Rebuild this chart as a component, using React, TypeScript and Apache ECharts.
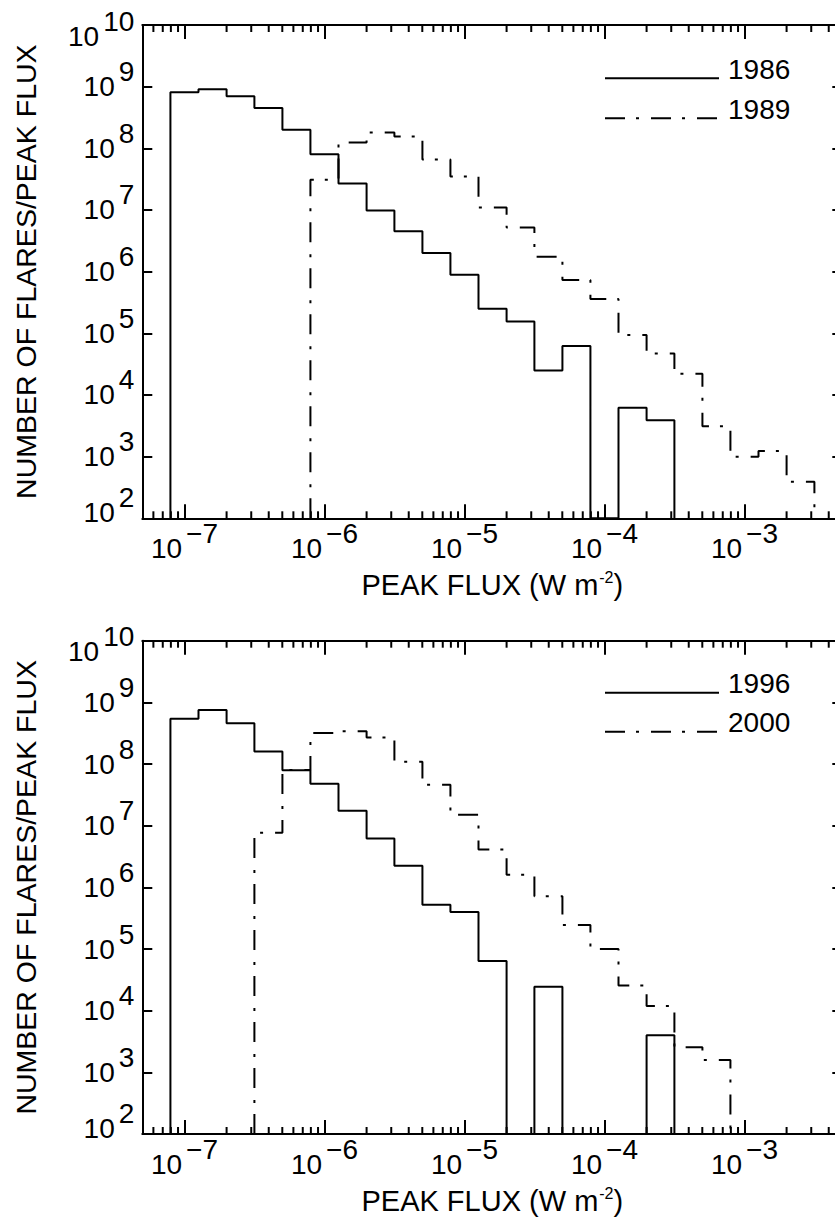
import React, { useEffect, useRef } from "react";
import * as echarts from "echarts";

// ---------- data ----------
// Bin edges (W m^-2), 0.2-decade bins
const BIN_EDGES = [
  7.94e-8, 1.26e-7, 2.0e-7, 3.16e-7, 5.01e-7, 7.94e-7, 1.26e-6, 2.0e-6,
  3.16e-6, 5.01e-6, 7.94e-6, 1.26e-5, 2.0e-5, 3.16e-5, 5.01e-5, 7.94e-5,
  1.26e-4, 2.0e-4, 3.16e-4, 5.01e-4, 7.94e-4, 1.26e-3, 2.0e-3, 3.16e-3,
];

// number of flares / peak flux per bin (0 = empty bin)
const COUNTS_1986 = [
  8.1e8, 9.1e8, 7.0e8, 4.5e8, 2.0e8, 8.0e7, 2.7e7, 9.8e6, 4.5e6, 2.0e6, 8.9e5,
  2.5e5, 1.56e5, 2.5e4, 6.2e4, 0, 6.2e3, 3.9e3, 0, 0, 0, 0, 0,
];
const COUNTS_1989 = [
  0, 0, 0, 0, 0, 3.1e7, 1.24e8, 1.8e8, 1.55e8, 6.6e7, 3.5e7, 1.1e7, 5.2e6,
  1.75e6, 7.3e5, 3.6e5, 9.4e4, 4.7e4, 2.2e4, 3.1e3, 1.0e3, 1.24e3, 3.9e2,
];
const COUNTS_1996 = [
  5.4e8, 7.5e8, 4.6e8, 1.6e8, 7.9e7, 4.8e7, 1.75e7, 6.2e6, 2.25e6, 5.2e5,
  4.0e5, 6.4e4, 0, 2.45e4, 0, 0, 0, 4.0e3, 0, 0, 0, 0, 0,
];
const COUNTS_2000 = [
  0, 0, 0, 7.7e6, 8.0e7, 3.2e8, 3.4e8, 2.7e8, 1.09e8, 4.6e7, 1.5e7, 4.1e6,
  1.6e6, 7.2e5, 2.45e5, 1.0e5, 2.55e4, 1.19e4, 2.55e3, 1.58e3, 0, 0, 0,
];

const TOP_NAMES = ["1986", "1989"];
const BOTTOM_NAMES = ["1996", "2000"];

const X_MIN = 5e-8;
const X_MAX = 5e-3;
const Y_MIN = 1e2;
const Y_MAX = 1e10;

const X_TITLE = "PEAK FLUX (W m{s|-2})";
const Y_TITLE = "NUMBER OF FLARES/PEAK FLUX";

// ---------- helpers ----------
const FONT = "Liberation Sans";
const BLACK = "#000";
const DASH_DOT = [20, 11, 3, 12];

function minorTickValues(): number[] {
  const out: number[] = [];
  for (let d = -8; d <= -3; d++) {
    for (let m = 2; m <= 9; m++) {
      const v = m * Math.pow(10, d);
      if (v > X_MIN * 1.0001 && v < X_MAX * 0.9999) out.push(v);
    }
  }
  return out;
}

function stepData(counts: number[]): number[][] {
  const first = counts.findIndex((c) => c > 0);
  let last = counts.length - 1;
  while (last >= 0 && !(counts[last] > 0)) last--;
  const pts: number[][] = [];
  pts.push([BIN_EDGES[first], Y_MIN]);
  for (let i = first; i <= last; i++) {
    pts.push([BIN_EDGES[i], counts[i] > 0 ? counts[i] : Y_MIN]);
  }
  pts.push([BIN_EDGES[last + 1], counts[last]]);
  pts.push([BIN_EDGES[last + 1], Y_MIN]);
  return pts;
}

function expOf(v: number): number | null {
  const e = Math.round(Math.log10(v));
  if (Math.abs(v / Math.pow(10, e) - 1) > 1e-6) return null;
  return e;
}

function xLabel(v: number): string {
  const e = expOf(v);
  if (e === null) return "";
  return `{b|10}{e|${e < 0 ? "\u2212" + -e : e}}`;
}

function yLabel(v: number): string {
  const e = expOf(v);
  if (e === null) return "";
  if (e === 10) return `{bt|10}{et|${e}}`;
  if (e === 2) return `{bb|10}{eb|${e}}`;
  return `{b|10}{e|${e}}`;
}

const tok = (padding: number[]) => ({ fontSize: 28, fontFamily: FONT, color: BLACK, padding });
const labelRich = {
  b: tok([0, 0, 0, 0]),
  e: tok([0, 0, 30, 4]),
  bt: tok([22, 0, 0, 0]),
  et: tok([0, 0, 8, 4]),
  bb: tok([0, 0, 12, 0]),
  eb: tok([0, 0, 42, 4]),
};

const GRID_LEFT = 142.3;
const GRID_W = 700;
const GRID_H = 493.3;
const GRID_TOPS = [25, 640.7];
// top of each legend entry (one entry per legend component)
const LEGEND_TOPS = [
  [55.3, 95.3],
  [669.7, 708.7],
];

export default function App() {
  const ref = useRef<HTMLDivElement>(null);

  useEffect(() => {
    if (!ref.current) return;
    const chart = echarts.init(ref.current, undefined, { renderer: "svg" });

    const axisLine = { show: true, lineStyle: { color: BLACK, width: 2 } };
    const minors = minorTickValues();

    const grids: any[] = [];
    const xAxes: any[] = [];
    const yAxes: any[] = [];
    const series: any[] = [];
    const legends: any[] = [];

    const panels = [
      { names: TOP_NAMES, solid: COUNTS_1986, dashed: COUNTS_1989 },
      { names: BOTTOM_NAMES, solid: COUNTS_1996, dashed: COUNTS_2000 },
    ];

    panels.forEach((p, i) => {
      const top = GRID_TOPS[i];
      grids.push({ left: GRID_LEFT, top, width: GRID_W, height: GRID_H, show: false });

      // bottom x axis
      xAxes.push({
        type: "log",
        logBase: 10,
        gridIndex: i,
        position: "bottom",
        min: X_MIN,
        max: X_MAX,
        splitLine: { show: false },
        axisLine,
        axisTick: { show: true, inside: true, length: 14, lineStyle: { color: BLACK, width: 2 } },
        axisLabel: { formatter: xLabel, rich: labelRich, margin: 1 },
        name: X_TITLE,
        nameLocation: "middle",
        nameGap: 51,
        nameTextStyle: {
          fontSize: 29,
          fontFamily: FONT,
          color: BLACK,
          rich: { s: { fontSize: 16, fontFamily: FONT, color: BLACK, padding: [0, 0, 15, 1] } },
        },
      });
      // top x axis (mirror)
      xAxes.push({
        type: "log",
        logBase: 10,
        gridIndex: i,
        position: "top",
        min: X_MIN,
        max: X_MAX,
        splitLine: { show: false },
        axisLine,
        axisTick: { show: true, inside: true, length: 14, lineStyle: { color: BLACK, width: 2 } },
        axisLabel: { show: false },
      });
      // left y axis
      yAxes.push({
        type: "log",
        logBase: 10,
        gridIndex: i,
        position: "left",
        min: Y_MIN,
        max: Y_MAX,
        splitNumber: 8,
        splitLine: { show: false },
        axisLine,
        axisTick: { show: true, inside: true, length: 10, lineStyle: { color: BLACK, width: 2 } },
        axisLabel: { formatter: yLabel, rich: labelRich, margin: 8 },
        name: Y_TITLE,
        nameLocation: "middle",
        nameRotate: 90,
        nameGap: 102,
        nameTextStyle: { fontSize: 28.5, fontFamily: FONT, color: BLACK },
      });
      // right y axis (mirror)
      yAxes.push({
        type: "log",
        logBase: 10,
        gridIndex: i,
        position: "right",
        min: Y_MIN,
        max: Y_MAX,
        splitNumber: 8,
        splitLine: { show: false },
        axisLine,
        axisTick: { show: true, inside: true, length: 10, lineStyle: { color: BLACK, width: 2 } },
        axisLabel: { show: false },
      });

      const xi = i * 2;
      const yi = i * 2;
      series.push({
        type: "line",
        name: p.names[0],
        xAxisIndex: xi,
        yAxisIndex: yi,
        data: stepData(p.solid),
        step: "end",
        symbol: "none",
        clip: false,
        z: 3,
        lineStyle: { color: BLACK, width: 2, type: "solid" },
        itemStyle: { color: BLACK },
      });
      series.push({
        type: "line",
        name: p.names[1],
        xAxisIndex: xi,
        yAxisIndex: yi,
        data: stepData(p.dashed),
        step: "end",
        symbol: "none",
        clip: false,
        z: 3,
        lineStyle: { color: BLACK, width: 2, type: DASH_DOT },
        itemStyle: { color: BLACK },
      });
      // minor ticks on bottom & top x axes
      series.push({
        type: "custom",
        xAxisIndex: xi,
        yAxisIndex: yi,
        silent: true,
        clip: false,
        z: 4,
        data: minors.map((v) => [v, Y_MIN]),
        encode: { x: 0, y: 1 },
        renderItem: (_params: any, api: any) => {
          const v = api.value(0);
          const b = api.coord([v, Y_MIN]);
          const t = api.coord([v, Y_MAX]);
          const st = { stroke: BLACK, lineWidth: 2 };
          return {
            type: "group",
            children: [
              { type: "line", shape: { x1: b[0], y1: b[1], x2: b[0], y2: b[1] - 7 }, style: st },
              { type: "line", shape: { x1: t[0], y1: t[1], x2: t[0], y2: t[1] + 7 }, style: st },
            ],
          };
        },
      });

      p.names.forEach((name, k) => {
        legends.push({
          data: [name],
          orient: "vertical",
          left: 604,
          top: LEGEND_TOPS[i][k],
          padding: 0,
          itemWidth: 114,
          itemHeight: 14,
          selectedMode: false,
          itemStyle: { opacity: 0 },
          formatter: (n: string) => `{t|${n}}`,
          textStyle: {
            fontSize: 28,
            fontFamily: FONT,
            color: BLACK,
            rich: {
              t: { fontSize: 28, fontFamily: FONT, color: BLACK, padding: [0, 0, 18, 4] },
            },
          },
        });
      });
    });

    chart.setOption({
      animation: false,
      backgroundColor: "#fff",
      textStyle: { fontFamily: FONT, color: BLACK },
      grid: grids,
      xAxis: xAxes,
      yAxis: yAxes,
      legend: legends,
      series,
    });

    return () => chart.dispose();
  }, []);

  return (
    <div
      style={{
        position: "absolute",
        left: 0,
        top: 0,
        width: 835,
        height: 1218,
        overflow: "hidden",
        background: "#fff",
      }}
    >
      <div ref={ref} style={{ width: 870, height: 1218 }} />
    </div>
  );
}
